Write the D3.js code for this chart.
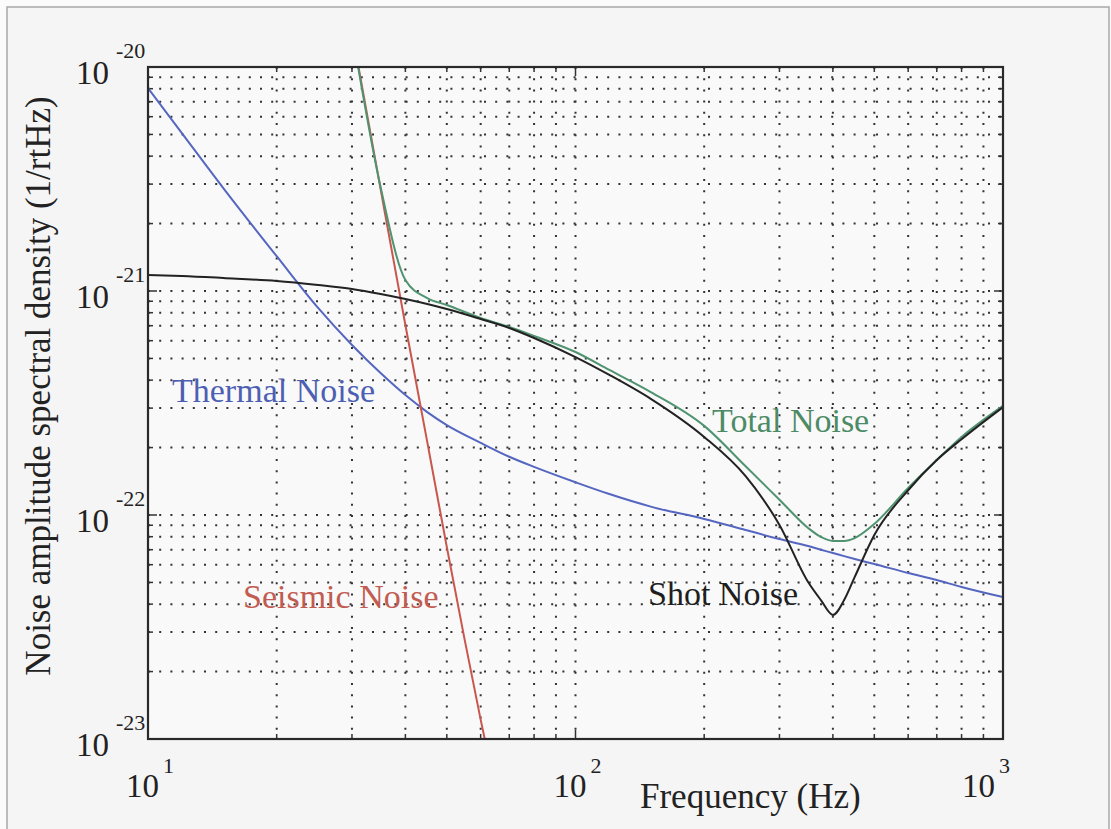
<!DOCTYPE html>
<html>
<head>
<meta charset="utf-8">
<script src="https://cdn.jsdelivr.net/npm/d3@7"></script>
<style>
  body { margin: 0; background: #fbfbfb; }
  svg { display: block; }
  text { font-family: "Liberation Serif", "Times New Roman", serif; }
</style>
</head>
<body>
<svg id="chart" width="1111" height="829"></svg>
<script>
var freq = [10, 12, 15, 20, 25, 30, 35, 40, 45, 50, 60, 70, 80, 100, 120, 150, 200, 250, 300, 350, 375, 400, 425, 450, 500, 600, 700, 800, 1000];

// thermal noise (1/rtHz)
var thermal = [8.06e-21, 5.07e-21, 2.88e-21, 1.43e-21, 8.40e-22, 5.74e-22, 4.30e-22, 3.43e-22, 2.88e-22, 2.52e-22,
	2.10e-22, 1.82e-22, 1.64e-22, 1.40e-22, 1.24e-22, 1.09e-22, 9.6e-23, 8.57e-23, 7.81e-23, 7.27e-23,
	7.0e-23, 6.77e-23, 6.55e-23, 6.36e-23, 6.04e-23, 5.51e-23, 5.13e-23, 4.77e-23, 4.30e-23];

// shot noise
var shot = [1.179e-21, 1.167e-21, 1.143e-21, 1.108e-21, 1.063e-21, 1.021e-21, 9.70e-22, 9.21e-22, 8.75e-22, 8.31e-22,
	7.50e-22, 6.84e-22, 6.17e-22, 5.07e-22, 4.22e-22, 3.30e-22, 2.23e-22, 1.49e-22, 9.03e-23, 5.02e-23,
	4.17e-23, 3.58e-23, 4.17e-23, 5.29e-23, 8.14e-23, 1.29e-22, 1.76e-22, 2.18e-22, 3.03e-22];

// seismic noise, only the steep wall
var seisFreq = [30, 35, 40, 45, 50, 55, 60, 65];
var seismic = [1.45e-20, 2.85e-21, 7.05e-22, 2.12e-22, 7.20e-23, 2.80e-23, 1.22e-23, 5.92e-24];

// total noise
var totalFreq = [30, 35, 40, 45, 50, 60, 70, 80, 100, 120, 150, 200, 250, 300, 350, 375, 400, 425, 450, 500, 600, 700, 800, 1000];
var total = [1.45e-20, 2.91e-21, 1.12e-21, 9.30e-22, 8.66e-22, 7.58e-22, 6.91e-22, 6.30e-22, 5.34e-22, 4.44e-22,
	3.54e-22, 2.50e-22, 1.65e-22, 1.17e-22, 8.75e-23, 7.98e-23, 7.66e-23, 7.66e-23, 7.89e-23, 9.12e-23,
	1.32e-22, 1.76e-22, 2.23e-22, 3.07e-22];

var xTicks = [10, 100, 1000];
var xTickExp = ["1", "2", "3"];
var yTicks = [1e-20, 1e-21, 1e-22, 1e-23];
var yTickExp = ["-20", "-21", "-22", "-23"];

var labels = [
	{ text: "Thermal Noise", x: 172, y: 402, color: "#4d5fb3" },
	{ text: "Total Noise", x: 712, y: 432, color: "#4c8b66" },
	{ text: "Seismic Noise", x: 243, y: 608, color: "#c25c52" },
	{ text: "Shot Noise", x: 648, y: 605, color: "#1e1e1e" }
];

(function() {
	var svg = d3.select("#chart");
	var pl = 148, pr = 1003, pt = 67, pb = 739;

	// outer frame of the scanned figure
	svg.append("rect")
		.attr("x", 7).attr("y", 7)
		.attr("width", 1102).attr("height", 840)
		.attr("fill", "#f5f5f5")
		.attr("stroke", "#a8a8a8").attr("stroke-width", 1.5);

	var x = d3.scaleLog().domain([10, 1000]).range([pl, pr]);
	var y = d3.scaleLog().domain([1e-23, 1e-20]).range([pb, pt]);

	svg.append("rect")
		.attr("x", pl).attr("y", pt)
		.attr("width", pr - pl).attr("height", pb - pt)
		.attr("fill", "#f9f9f9");

	// minor + major tick values
	var xMinor = [], yMinor = [];
	[10, 100].forEach(function(d) { for (var k = 1; k <= 9; k++) xMinor.push(d * k); });
	xMinor.push(1000);
	[1e-23, 1e-22, 1e-21].forEach(function(d) { for (var k = 1; k <= 9; k++) yMinor.push(d * k); });
	yMinor.push(1e-20);

	var grid = svg.append("g")
		.attr("stroke", "#333")
		.attr("stroke-width", 2)
		.attr("stroke-dasharray", "2,9.2");

	grid.selectAll("line.vx")
		.data(xMinor.slice(1, -1))
		.enter().append("line")
			.attr("x1", function(d) { return x(d); })
			.attr("x2", function(d) { return x(d); })
			.attr("y1", pt)
			.attr("y2", pb);

	grid.selectAll("line.hy")
		.data(yMinor.slice(1, -1))
		.enter().append("line")
			.attr("y1", function(d) { return y(d); })
			.attr("y2", function(d) { return y(d); })
			.attr("x1", pl)
			.attr("x2", pr);

	// inward ticks on all four sides
	var ticks = svg.append("g").attr("stroke", "#333").attr("stroke-width", 1.5);
	xMinor.forEach(function(d) {
		var len = xTicks.indexOf(d) >= 0 ? 9 : 5;
		ticks.append("line").attr("x1", x(d)).attr("x2", x(d)).attr("y1", pb).attr("y2", pb - len);
		ticks.append("line").attr("x1", x(d)).attr("x2", x(d)).attr("y1", pt).attr("y2", pt + len);
	});
	yMinor.forEach(function(d) {
		var len = yTicks.indexOf(d) >= 0 ? 9 : 5;
		ticks.append("line").attr("y1", y(d)).attr("y2", y(d)).attr("x1", pl).attr("x2", pl + len);
		ticks.append("line").attr("y1", y(d)).attr("y2", y(d)).attr("x1", pr).attr("x2", pr - len);
	});

	// curves
	svg.append("clipPath").attr("id", "plotclip")
		.append("rect")
			.attr("x", pl).attr("y", pt)
			.attr("width", pr - pl).attr("height", pb - pt);

	var line = d3.line()
		.x(function(d) { return x(d[0]); })
		.y(function(d) { return y(d[1]); })
		.curve(d3.curveMonotoneX);

	var curves = svg.append("g")
		.attr("clip-path", "url(#plotclip)")
		.attr("fill", "none")
		.attr("stroke-width", 2);

	curves.append("path").attr("d", line(d3.zip(freq, thermal))).attr("stroke", "#5566c0");
	curves.append("path").attr("d", line(d3.zip(seisFreq, seismic))).attr("stroke", "#c8584e");
	curves.append("path").attr("d", line(d3.zip(totalFreq, total))).attr("stroke", "#4f9370");
	curves.append("path").attr("d", line(d3.zip(freq, shot))).attr("stroke", "#222");

	// axes box
	svg.append("rect")
		.attr("x", pl).attr("y", pt)
		.attr("width", pr - pl).attr("height", pb - pt)
		.attr("fill", "none")
		.attr("stroke", "#2a2a2a").attr("stroke-width", 2.2);

	// tick labels
	var tl = svg.append("g").attr("fill", "#222");
	yTicks.forEach(function(d, i) {
		tl.append("text").attr("x", 109).attr("y", y(d) + 17)
			.attr("text-anchor", "end").style("font-size", "33px").text("10");
		tl.append("text").attr("x", 116).attr("y", y(d) - 9)
			.style("font-size", "22px").text(yTickExp[i]);
	});
	xTicks.forEach(function(d, i) {
		// the last label sits a little left of its tick in the original
		var cx = i == xTicks.length - 1 ? x(d) - 19 : x(d);
		tl.append("text").attr("x", cx - 22).attr("y", 797)
			.style("font-size", "33px").text("10");
		tl.append("text").attr("x", cx + 15).attr("y", 773)
			.style("font-size", "22px").text(xTickExp[i]);
	});

	// axis titles
	tl.append("text")
		.attr("transform", "translate(50,386) rotate(-90)")
		.attr("text-anchor", "middle")
		.style("font-size", "35px")
		.text("Noise amplitude spectral density (1/rtHz)");
	tl.append("text")
		.attr("x", 640).attr("y", 808)
		.style("font-size", "35px")
		.text("Frequency (Hz)");

	// curve labels
	svg.selectAll("text.lbl")
		.data(labels)
		.enter().append("text")
			.attr("class", "lbl")
			.attr("x", function(d) { return d.x; })
			.attr("y", function(d) { return d.y; })
			.attr("fill", function(d) { return d.color; })
			.style("font-size", "34px")
			.text(function(d) { return d.text; });
})();
</script>
</body>
</html>
